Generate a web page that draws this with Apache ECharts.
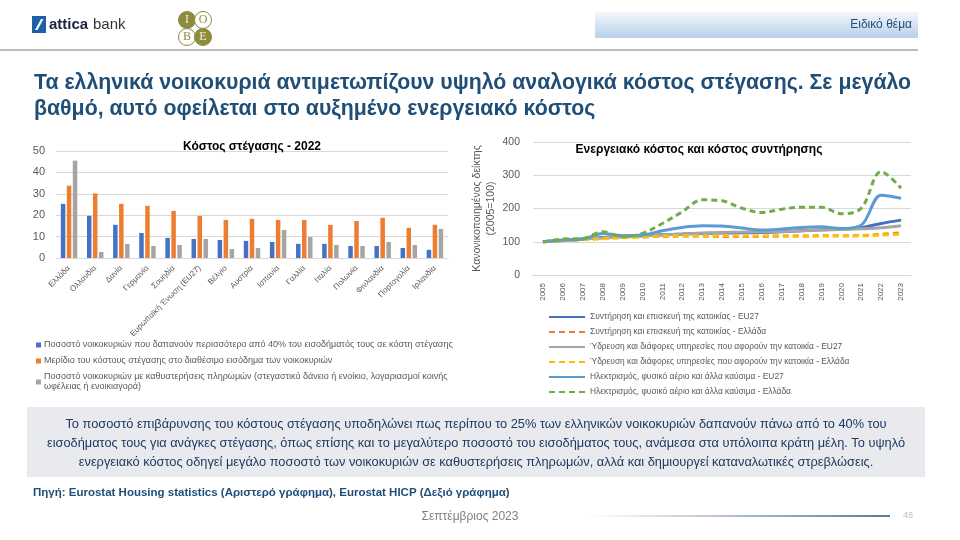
<!DOCTYPE html>
<html><head><meta charset="utf-8">
<script src="https://cdn.jsdelivr.net/npm/echarts@6/dist/echarts.min.js"></script>
<style>html,body{margin:0;padding:0;background:#fff}#c{width:960px;height:540px}</style>
</head><body><div id="c"></div>
<script>
// ---- Left chart data ----
const countries = ["Ελλάδα","Ολλανδία","Δανία","Γερμανία","Σουηδία","Ευρωπαϊκή Ένωση (EU27)","Βέλγιο","Αυστρία","Ισπανία","Γαλλία","Ιταλία","Πολωνία","Φινλανδία","Πορτογαλία","Ιρλανδία"];
const overburden = [25.3,19.7,15.5,11.7,9.4,8.9,8.4,8.0,7.5,6.6,6.6,5.6,5.6,4.7,3.8];
const costShare = [33.8,30.2,25.3,24.4,22.0,19.7,17.8,18.3,17.8,17.8,15.5,17.3,18.8,14.1,15.5];
const arrears = [45.5,2.8,6.6,5.6,6.1,8.9,4.2,4.7,13.1,9.8,6.1,5.6,7.5,6.1,13.6];
const leftNames = [
 "Ποσοστό νοικοκυριών που δαπανούν περισσότερο από 40% του εισοδήματός τους σε κόστη στέγασης",
 "Μερίδιο του κόστους στέγασης στο διαθέσιμο εισόδημα των νοικοκυριών",
 "Ποσοστό νοικοκυριών με καθυστερήσεις πληρωμών (στεγαστικό δάνειο ή ενοίκιο, λογαριασμοί κοινής ωφέλειας ή ενοικιαγορά)"
];
// ---- Right chart data ----
const years = ["2005","2006","2007","2008","2009","2010","2011","2012","2013","2014","2015","2016","2017","2018","2019","2020","2021","2022","2023"];
const maintEU = [100,104,108,113,116,118,121,123,125,126,127,128,130,133,136,138,143,155,165];
const maintGR = [100,103,107,111,114,115,116,117,117,116,116,116,117,117,118,118,119,122,127];
const waterEU = [100,104,108,111,114,117,120,123,126,128,129,130,131,133,135,137,139,142,148];
const waterGR = [100,103,106,109,112,114,117,118,118,118,117,117,117,117,118,118,118,120,123];
const energyEU = [100,105,108,125,118,120,133,143,148,147,141,135,138,143,145,140,150,240,231];
const energyGR = [100,108,110,130,115,125,155,190,226,223,201,188,198,204,204,184,201,311,261];
const rightNames = [
 "Συντήρηση και επισκευή της κατοικίας - EU27",
 "Συντήρηση και επισκευή της κατοικίας - Ελλάδα",
 "Ύδρευση και διάφορες υπηρεσίες που αφορούν την κατοικία - EU27",
 "Ύδρευση και διάφορες υπηρεσίες που αφορούν την κατοικία - Ελλάδα",
 "Ηλεκτρισμός, φυσικό αέριο και άλλα καύσιμα - EU27",
 "Ηλεκτρισμός, φυσικό αέριο και άλλα καύσιμα - Ελλάδα"
];
const FONT = "'Liberation Sans', Arial, sans-serif";
const NAVY = "#1F4E79";

const chart = echarts.init(document.getElementById('c'), null, {renderer:'canvas'});
function barS(name, data, color){
  return {type:'bar', name, data, xAxisIndex:0, yAxisIndex:0, itemStyle:{color},
    barWidth:4.5, barGap:'33%'};
}
function lineS(name, data, color, dashed, width){
  return {type:'line', name, data, xAxisIndex:1, yAxisIndex:1, symbol:'none', smooth:0.35,
    lineStyle:{color, width:width||3, type: dashed ? [6,4] : 'solid'}, itemStyle:{color}};
}
const option = {
  backgroundColor:'#fff',
  animation:false,
  textStyle:{fontFamily:FONT},
  title:[
    {text:'Κόστος στέγασης - 2022', left:247, top:136, textAlign:'center',
     textStyle:{fontSize:12, fontWeight:'bold', color:'#000', fontFamily:FONT}},
    {text:'Ενεργειακό κόστος και κόστος συντήρησης', left:694, top:139, textAlign:'center',
     textStyle:{fontSize:12, fontWeight:'bold', color:'#000', fontFamily:FONT}}
  ],
  grid:[
    {left:56, top:151, width:392, height:107, containLabel:false},
    {left:533, top:142, width:378, height:133, containLabel:false}
  ],
  xAxis:[
    {type:'category', gridIndex:0, data:countries,
     axisLine:{lineStyle:{color:'#d9d9d9'}}, axisTick:{show:false},
     axisLabel:{rotate:45, fontSize:8, color:'#595959', margin:9, interval:0}},
    {type:'category', gridIndex:1, data:years, boundaryGap:true,
     axisLine:{lineStyle:{color:'#d9d9d9'}}, axisTick:{show:false},
     axisLabel:{rotate:90, fontSize:8, color:'#595959', margin:8, interval:0}}
  ],
  yAxis:[
    {type:'value', gridIndex:0, min:0, max:50, interval:10,
     axisLine:{show:false}, axisTick:{show:false},
     splitLine:{lineStyle:{color:'#d9d9d9'}},
     axisLabel:{fontSize:11, color:'#595959', margin:11}},
    {type:'value', gridIndex:1, min:0, max:400, interval:100,
     axisLine:{show:false}, axisTick:{show:false},
     splitLine:{lineStyle:{color:'#d9d9d9'}},
     axisLabel:{fontSize:10.5, color:'#595959', margin:13},
     name:'Κανονικοποιημένος δείκτης\n(2005=100)', nameLocation:'middle', nameGap:34,
     nameTextStyle:{fontSize:10.5, color:'#595959', lineHeight:14}}
  ],
  legend:[
    {data:leftNames, orient:'vertical', left:31, top:335, itemWidth:5, itemHeight:5, itemGap:6,
     icon:'rect',
     formatter:function(n){return n.replace('κοινής ','κοινής\n');},
     textStyle:{fontSize:9, color:'#595959', lineHeight:10, padding:[0,0,0,-2]}},
    {data:rightNames, orient:'vertical', left:543, top:307, itemWidth:36, itemHeight:6, itemGap:5,
     itemStyle:{opacity:0},
     textStyle:{fontSize:8.4, color:'#595959', lineHeight:10}}
  ],
  series:[
    barS(leftNames[0], overburden, '#4472C4'),
    barS(leftNames[1], costShare, '#ED7D31'),
    barS(leftNames[2], arrears, '#A5A5A5'),
    lineS(rightNames[0], maintEU, '#4472C4', false),
    lineS(rightNames[1], maintGR, '#ED7D31', true),
    lineS(rightNames[2], waterEU, '#A5A5A5', false),
    lineS(rightNames[3], waterGR, '#FFC000', true),
    lineS(rightNames[4], energyEU, '#5B9BD5', false),
    lineS(rightNames[5], energyGR, '#70AD47', true)
  ],
  graphic:[
    // attica logo
    {type:'rect', shape:{x:32,y:16,width:14,height:17}, style:{fill:'#1F5FA8'}},
    {type:'polygon', shape:{points:[[35,30],[41,19],[43.5,19],[37.5,30]]}, style:{fill:'#fff'}},
    {type:'text', left:49, top:17, style:{text:'attica', font:'bold 15px '+FONT, fill:'#1c2340'}},
    {type:'text', left:93, top:17, style:{text:'bank', font:'15px '+FONT, fill:'#333'}},
    // IOBE logo
    {type:'circle', shape:{cx:187,cy:20,r:8.5}, style:{fill:'#8E8A3E', stroke:'#8E8A3E'}},
    {type:'circle', shape:{cx:203,cy:20,r:8.5}, style:{fill:'#fff', stroke:'#8E8A3E', lineWidth:1}},
    {type:'circle', shape:{cx:187,cy:37,r:8.5}, style:{fill:'#fff', stroke:'#8E8A3E', lineWidth:1}},
    {type:'circle', shape:{cx:203,cy:37,r:8.5}, style:{fill:'#8E8A3E', stroke:'#8E8A3E'}},
    {type:'text', x:187, y:20, style:{text:'Ι', font:'12px serif', fill:'#f2f0d8', align:'center', verticalAlign:'middle'}},
    {type:'text', x:203, y:20, style:{text:'Ο', font:'12px serif', fill:'#8E8A3E', align:'center', verticalAlign:'middle'}},
    {type:'text', x:187, y:37, style:{text:'Β', font:'12px serif', fill:'#8E8A3E', align:'center', verticalAlign:'middle'}},
    {type:'text', x:203, y:37, style:{text:'Ε', font:'12px serif', fill:'#f2f0d8', align:'center', verticalAlign:'middle'}},
    // header box
    {type:'rect', shape:{x:595,y:12,width:323,height:26},
     style:{fill:new echarts.graphic.LinearGradient(0,0,0,1,[{offset:0,color:'#f3f7fb'},{offset:1,color:'#b8d0ea'}])}},
    {type:'text', x:912, y:25, style:{text:'Ειδικό θέμα', font:'12px '+FONT, fill:NAVY, align:'right', verticalAlign:'middle'}},
    {type:'line', shape:{x1:0,y1:50,x2:918,y2:50}, style:{stroke:'#a6a6a6', lineWidth:1.5}},
    // main title
    {type:'text', left:34, top:70, style:{text:'Τα ελληνικά νοικοκυριά αντιμετωπίζουν υψηλό αναλογικά κόστος στέγασης. Σε μεγάλο\nβαθμό, αυτό οφείλεται στο αυξημένο ενεργειακό κόστος',
      font:'bold 21.3px '+FONT, fill:NAVY, lineHeight:26}},
    // text box
    {type:'rect', shape:{x:27,y:407,width:898,height:70}, style:{fill:'#E8EAEE'}},
    {type:'text', x:476, y:443, style:{text:'Το ποσοστό επιβάρυνσης του κόστους στέγασης υποδηλώνει πως περίπου το 25% των ελληνικών νοικοκυριών δαπανούν πάνω από το 40% του\nεισοδήματος τους για ανάγκες στέγασης, όπως επίσης και το μεγαλύτερο ποσοστό του εισοδήματος τους, ανάμεσα στα υπόλοιπα κράτη μέλη. Το υψηλό\nενεργειακό κόστος οδηγεί μεγάλο ποσοστό των νοικοκυριών σε καθυστερήσεις πληρωμών, αλλά και δημιουργεί καταναλωτικές στρεβλώσεις.',
      font:'12.8px '+FONT, fill:'#1F3864', align:'center', verticalAlign:'middle', lineHeight:19}},
    {type:'text', left:33, top:487, style:{text:'Πηγή: Eurostat Housing statistics (Αριστερό γράφημα), Eurostat HICP (Δεξιό γράφημα)',
      font:'bold 11.5px '+FONT, fill:NAVY}},
    // footer
    {type:'text', x:470, y:517, style:{text:'Σεπτέμβριος 2023', font:'12px '+FONT, fill:'#7f7f7f', align:'center', verticalAlign:'middle'}},
    {type:'line', shape:{x1:590,y1:516,x2:890,y2:516},
     style:{stroke:new echarts.graphic.LinearGradient(0,0,1,0,[{offset:0,color:'#ffffff'},{offset:1,color:'#5b7a99'}]), lineWidth:2}},
    {type:'text', x:908, y:516, style:{text:'48', font:'9px '+FONT, fill:'#bfbfbf', align:'center', verticalAlign:'middle'}}
  ]
};
chart.setOption(option);
</script></body></html>
